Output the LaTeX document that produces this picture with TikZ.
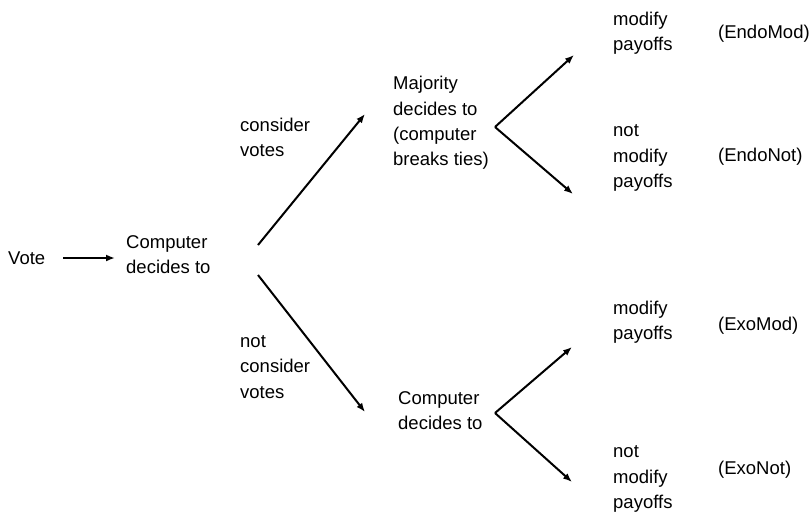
\documentclass[tikz,border=0pt]{standalone}
\usepackage{fontspec}
\setmainfont{Liberation Sans}
\usetikzlibrary{arrows.meta}
\begin{document}
\begin{tikzpicture}[x=1pt,y=-1pt,
  lbl/.style={anchor=west,inner sep=0pt,align=left,
    font=\fontsize{18.5}{25.2}\selectfont},
  arr/.style={line width=2pt,-{Latex[length=9pt,width=7pt]}}]
\useasboundingbox (0,0) rectangle (809,512);
% text blocks
\node[lbl] (vote) at (8,258) {Vote};
\node[lbl] (comp1) at (126,254.5) {Computer\\decides to};
\node[lbl] (cons) at (240,137.5) {consider\\votes};
\node[lbl] (ncons) at (240,367) {not\\consider\\votes};
\node[lbl] (maj) at (393,123) {Majority\\decides to\\(computer\\breaks ties)};
\node[lbl] (comp2) at (398,411) {Computer\\decides to};
\node[lbl] (m1) at (613,33.5) {modify\\payoffs};
\node[lbl] (n1) at (613,158) {not\\modify\\payoffs};
\node[lbl] (m2) at (613,322.5) {modify\\payoffs};
\node[lbl] (n2) at (613,479) {not\\modify\\payoffs};
\node[lbl] (t1) at (718,34) {(EndoMod)};
\node[lbl] (t2) at (718,157) {(EndoNot)};
\node[lbl] (t3) at (718,326) {(ExoMod)};
\node[lbl] (t4) at (718,470) {(ExoNot)};
% branch points
\coordinate (s1) at (258,245);
\coordinate (e1) at (365,114);
\coordinate (s2) at (258,275);
\coordinate (e2) at (365,412);
\coordinate (v1) at (495,127);
\coordinate (v1a) at (574,55);
\coordinate (v1b) at (573,194);
\coordinate (v2) at (495,413);
\coordinate (v2a) at (572,347);
\coordinate (v2b) at (572,482);
% connectors
\draw[arr,line width=2.4pt,shorten <=18pt,shorten >=11pt] (vote.east) -- (vote.east -| comp1.west);
\draw[arr] (s1) -- (e1);
\draw[arr] (s2) -- (e2);
\draw[arr] (v1) -- (v1a);
\draw[arr] (v1) -- (v1b);
\draw[arr] (v2) -- (v2a);
\draw[arr] (v2) -- (v2b);
\end{tikzpicture}
\end{document}
